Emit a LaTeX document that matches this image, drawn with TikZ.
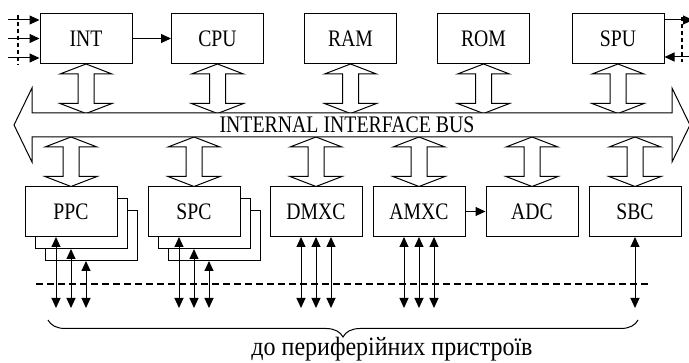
\documentclass[tikz,border=0pt]{standalone}
\usepackage{fontspec}
\setmainfont{Liberation Serif}
\usetikzlibrary{arrows.meta,calc,decorations.pathreplacing}

\newcommand\tall[1]{\scalebox{1}[1.2]{#1}}

\tikzset{
    box/.style={draw, line width=1pt, fill=white, minimum width=92pt, minimum height=50pt,
        inner sep=0pt, font=\fontsize{19.7}{22}\selectfont},
    fat/.style={draw, line width=1pt, fill=white, line join=miter},
    sig/.style={line width=1pt, -{Triangle[length=10pt,width=9pt]}},
    bisig/.style={line width=1pt, {Triangle[length=10pt,width=9pt]}-{Triangle[length=10pt,width=9pt]}},
    dashline/.style={line width=1.1pt, dash pattern=on 7pt off 4pt}
}

% hollow two-way arrow: #1 upper tip, #2 length
\newcommand\fatarrow[2]{%
    \draw[fat] #1 -- ++(-26,10) -- ++(18,0) -- ++(0,#2-20) -- ++(-18,0) -- ++(26,10)
        -- ++(26,-10) -- ++(-18,0) -- ++(0,-#2+20) -- ++(18,0) -- cycle;}

\begin{document}
\begin{tikzpicture}[x=1pt,y=-1pt]
    \useasboundingbox (0,0) rectangle (689,363);

    % Define bus edges
    \coordinate (bustop) at (0,113);
    \coordinate (busbot) at (0,137);
    \coordinate (periph) at (0,308);

    % Upper blocks
    \foreach \x/\name in {86/INT, 217.5/CPU, 350.5/RAM, 483.5/ROM, 618/SPU}
    {
        \node[box] (\name) at (\x,38.5) {\tall{\name}};
        \fatarrow{(\name.south)}{49.5}
    }

    % Lower blocks (stacked ones first)
    \foreach \x/\name in {71/PPC, 194/SPC}
    {
        \node[box] (\name2) at (\x+20,235.5) {};
        \node[box] (\name1) at (\x+10,223.5) {};
    }
    \foreach \x/\name in {71/PPC, 194/SPC, 316/DMXC, 419/AMXC, 532/ADC, 635/SBC}
    {
        \node[box] (\name) at (\x,211.5) {\tall{\name}};
        \fatarrow{(\name.north |- busbot)}{49.5}
    }

    % Draw the bus
    \draw[fat] (14,125) -- (32,88) -- (32,113) -- (672,113) -- (672,88) -- (690,125)
        -- (672,162) -- (672,137) -- (32,137) -- (32,162) -- cycle;
    \node[font=\fontsize{19.8}{22}\selectfont, anchor=base] (buslabel) at (347,133) {\tall{INTERNAL INTERFACE BUS}};

    % Interrupt inputs and SPU lines
    \foreach \y/\name in {20/in1, 38.5/in2, 58/in3}
    {
        \coordinate (\name) at (8,\y);
        \draw[sig] (\name) -- (\name -| INT.west);
    }
    \draw[dashline, dash pattern=on 4pt off 3pt] (18,15) -- (18,65);
    \coordinate (out1) at (693,20);
    \coordinate (in4) at (689,57);
    \draw[sig] (SPU.east |- out1) -- (out1);
    \draw[sig] (in4) -- (in4 -| SPU.east);
    \draw[dashline, dash pattern=on 4pt off 3pt] (682,17) -- (682,62);

    % Connecting lines
    \draw[sig] (INT) -- (CPU);
    \draw[sig] (AMXC) -- (ADC);

    % Lines to the periphery
    \foreach \name in {PPC, SPC}
    {
        \draw[bisig] ($(\name.south)+(-15,0)$) -- ($(\name.south |- periph)+(-15,0)$);
        \draw[bisig] (\name.south |- \name1.south) -- (\name.south |- periph);
        \draw[bisig] ($(\name.south |- \name2.south)+(15,0)$) -- ($(\name.south |- periph)+(15,0)$);
    }
    \foreach \name in {DMXC, AMXC}
        \foreach \dx in {-15, 0, 15}
            \draw[bisig] ($(\name.south)+(\dx,0)$) -- ($(\name.south |- periph)+(\dx,0)$);
    \draw[bisig] (SBC.south) -- (SBC.south |- periph);
    \draw[dashline] (36,284) -- (650,284);

    % Brace and caption
    \draw[decorate, decoration={brace, amplitude=17pt, mirror}, line width=1pt] (48,320) -- (638,320);
    \node[font=\fontsize{24}{26}\selectfont, anchor=base] (caption) at (392,356) {\scalebox{1}[1.1]{до периферійних пристроїв}};
\end{tikzpicture}
\end{document}
